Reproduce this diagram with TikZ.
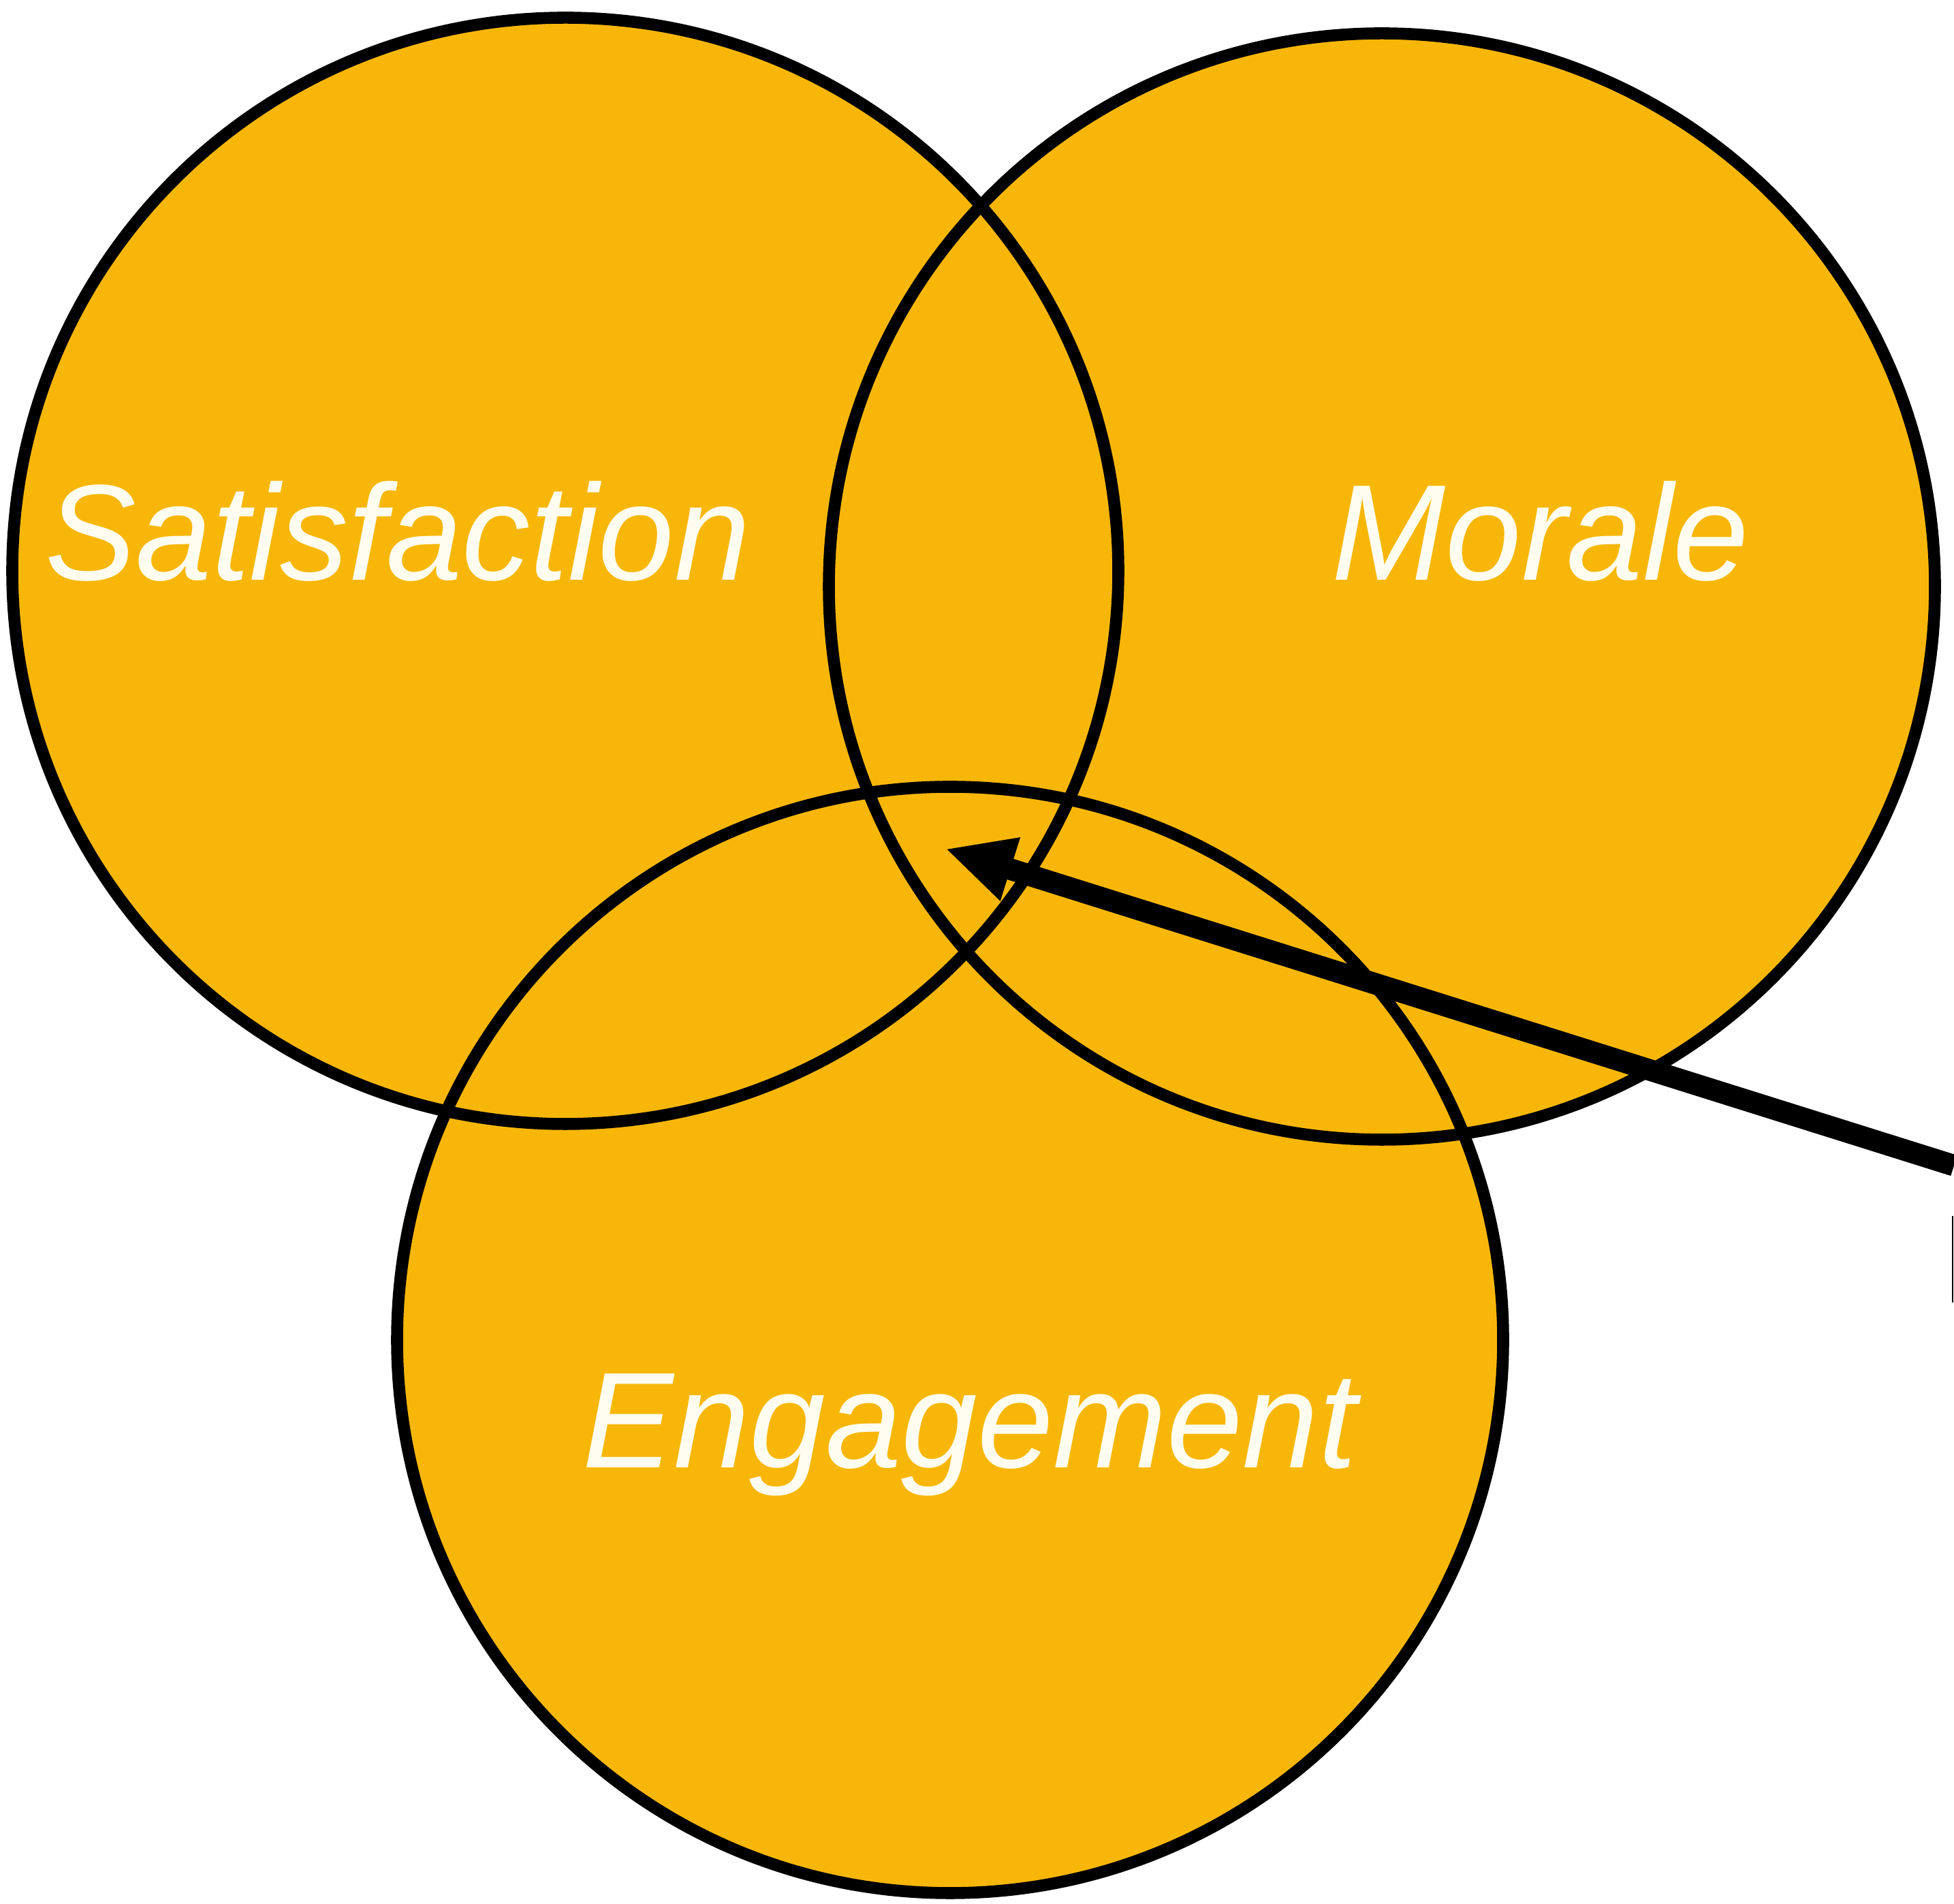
\documentclass[tikz,border=0pt]{standalone}
\usepackage{fontspec}
\setmainfont{Liberation Sans}
\usetikzlibrary{arrows.meta}
\definecolor{venngold}{RGB}{248,183,8}
\definecolor{venncream}{RGB}{255,253,240}
\begin{document}
\begin{tikzpicture}[
  disc/.style={fill=venngold},
  ring/.style={draw=black,line width=5pt},
  venntext/.style={text=venncream,anchor=base,inner sep=0pt,font=\fontsize{57}{66}\selectfont\itshape},
  pointer/.style={-{Triangle[length=10mm,width=9mm]},line width=9pt}]
\useasboundingbox (0,0) rectangle (28.69,27.95);

\fill [disc] (8.30,19.57) circle (8.12);
\fill [disc] (20.29,19.34) circle (8.12);
\fill [disc] (13.95,8.28) circle (8.12);

\draw [ring] (8.30,19.57) circle (8.12);
\draw [ring] (20.29,19.34) circle (8.12);
\draw [ring] (13.95,8.28) circle (8.12);

\node [venntext] (satisfaction) at (5.84,19.43) {Satisfaction};
\node [venntext] (morale) at (22.62,19.43) {Morale};
\node [venntext] (engagement) at (14.24,6.40) {Engagement};

\coordinate (tip) at (13.88,15.49);
\coordinate (tail) at (28.69,10.84);
\draw [pointer] (tail) -- (tip);

\coordinate (edgetop) at (28.67,10.10);
\coordinate (edgebot) at (28.67,8.83);
\draw [line width=0.5pt] (edgetop) -- (edgebot);
\end{tikzpicture}
\end{document}
